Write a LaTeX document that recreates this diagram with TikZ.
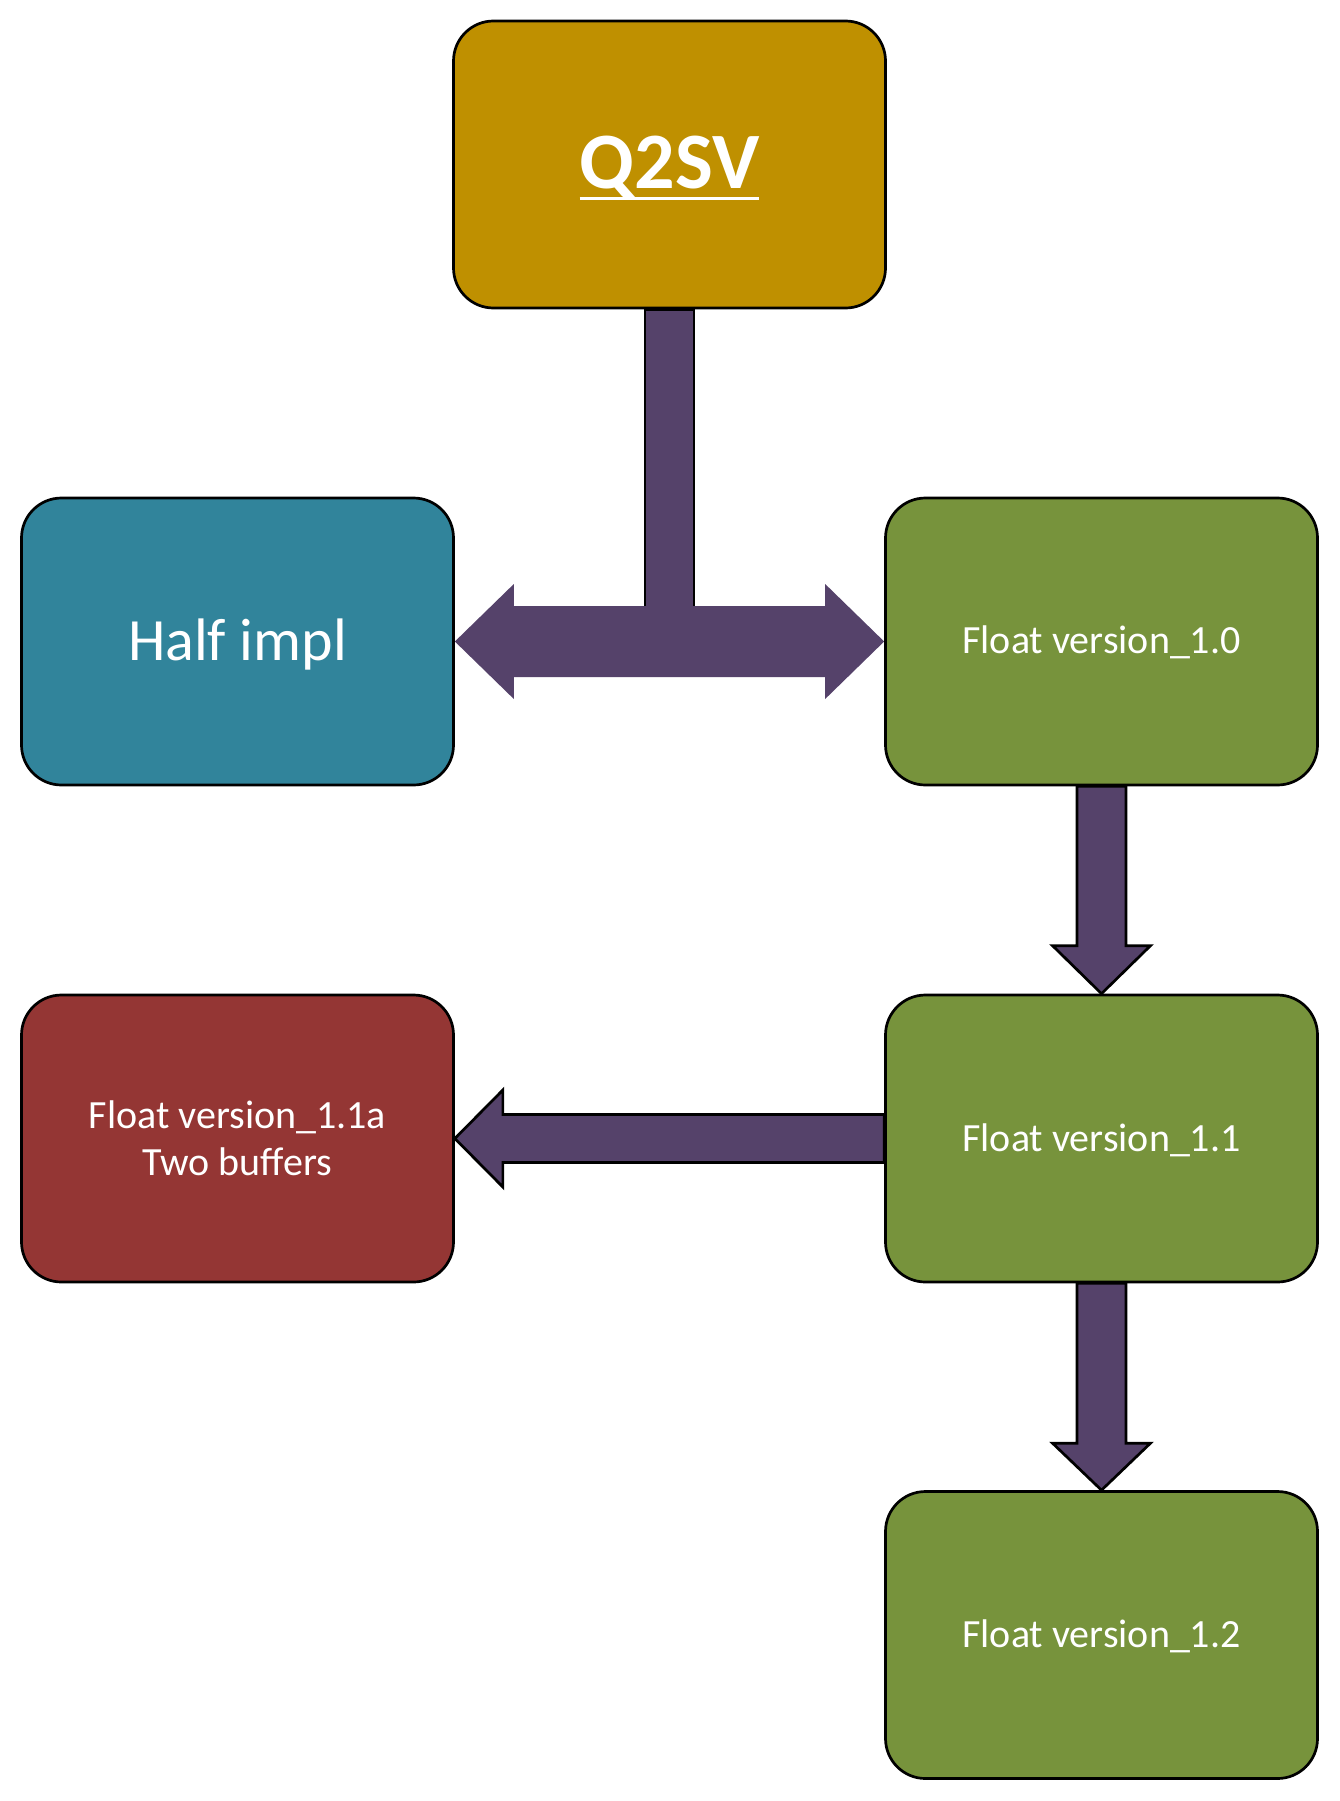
\documentclass[tikz,border=0pt]{standalone}
\usepackage{fontspec}
\setmainfont{Carlito}
\usetikzlibrary{calc}
\definecolor{cgold}{HTML}{BF9000}
\definecolor{cteal}{HTML}{31849B}
\definecolor{cgreen}{HTML}{77933C}
\definecolor{cred}{HTML}{943634}
\definecolor{cpurple}{HTML}{55426A}
\newcommand\biguline[1]{\setbox0\hbox{#1}\rlap{\rule[-12pt]{\wd0}{3.4pt}}\box0}
\tikzset{
  boxnode/.style={draw=black, line width=2.7pt, rounded corners=40pt,
    minimum width=432pt, minimum height=287pt, inner sep=0pt, outer sep=1.35pt},
  txt/.style={text=white, inner sep=0pt, anchor=base},
  arrowfill/.style={fill=cpurple},
  arrowline/.style={fill=cpurple, draw=black, line width=2.7pt, line join=miter},
}
\begin{document}
\begin{tikzpicture}[x=1pt,y=-1pt]
\useasboundingbox (0,0) rectangle (1339,1801);
% box anchors (boxes drawn later, above the arrows)
\path (669.5,164.5) node[boxnode, draw=none] (q2sv) {}
      (237.5,641.5) node[boxnode, draw=none] (half) {}
      (1101.5,641.5) node[boxnode, draw=none] (f10) {}
      (237.5,1138.5) node[boxnode, draw=none] (f11a) {}
      (1101.5,1138.5) node[boxnode, draw=none] (f11) {}
      (1101.5,1635) node[boxnode, draw=none] (f12) {};
% T arrow stem
\draw[arrowline] ($(q2sv.south)+(-24.5,0)$) rectangle ($(q2sv.south)+(24.5,333)$);
% double arrow
\fill[arrowfill] (half.east) -- ++(59,-57.5) -- ++(0,22)
  -- ($(f10.west)+(-59,-35.5)$) -- ++(0,-22) -- (f10.west) -- ++(-59,57.5) -- ++(0,-22)
  -- ($(half.east)+(59,35.5)$) -- ++(0,22) -- cycle;
% down arrow 1
\draw[arrowline] ($(f10.south)+(-24.5,0)$) -- ($(f11.north)+(-24.5,-48)$) -- ++(-24.5,0)
  -- (f11.north) -- ++(49,-48) -- ++(-24.5,0) -- ($(f10.south)+(24.5,0)$) -- cycle;
% down arrow 2
\draw[arrowline] ($(f11.south)+(-24.5,0)$) -- ($(f12.north)+(-24.5,-47)$) -- ++(-24.5,0)
  -- (f12.north) -- ++(49,-47) -- ++(-24.5,0) -- ($(f11.south)+(24.5,0)$) -- cycle;
% left arrow
\draw[arrowline] ($(f11.west)+(0,-24)$) -- ($(f11a.east)+(48,-24)$) -- ++(0,-24.5)
  -- (f11a.east) -- ++(48,48.5) -- ++(0,-24.5) -- ($(f11.west)+(0,24)$) -- cycle;
% boxes
\node[boxnode, fill=cgold] (q2svbox) at (q2sv.center) {};
\node[boxnode, fill=cteal] (halfbox) at (half.center) {};
\node[boxnode, fill=cgreen] (f10box) at (f10.center) {};
\node[boxnode, fill=cred] (f11abox) at (f11a.center) {};
\node[boxnode, fill=cgreen] (f11box) at (f11.center) {};
\node[boxnode, fill=cgreen] (f12box) at (f12.center) {};
% texts
\node[txt, font=\fontsize{80}{94}\selectfont\bfseries] (tq) at ($(q2sv.center)+(0,23.5)$) {\biguline{Q2SV}};
\node[txt, font=\fontsize{60}{72}\selectfont] (th) at ($(half.center)+(0,18.5)$) {Half impl};
\node[txt, font=\fontsize{40}{47}\selectfont] (t10) at ($(f10.center)+(0,11.5)$) {Float version\_1.0};
\node[txt, font=\fontsize{40}{47}\selectfont] (t11) at ($(f11.center)+(0,12.5)$) {Float version\_1.1};
\node[txt, font=\fontsize{40}{47}\selectfont] (t12) at ($(f12.center)+(0,12)$) {Float version\_1.2};
\node[txt, anchor=center, align=center, font=\fontsize{40}{47}\selectfont] (t11a) at (f11a.center) {Float version\_1.1a\\Two buffers};
\end{tikzpicture}
\end{document}
